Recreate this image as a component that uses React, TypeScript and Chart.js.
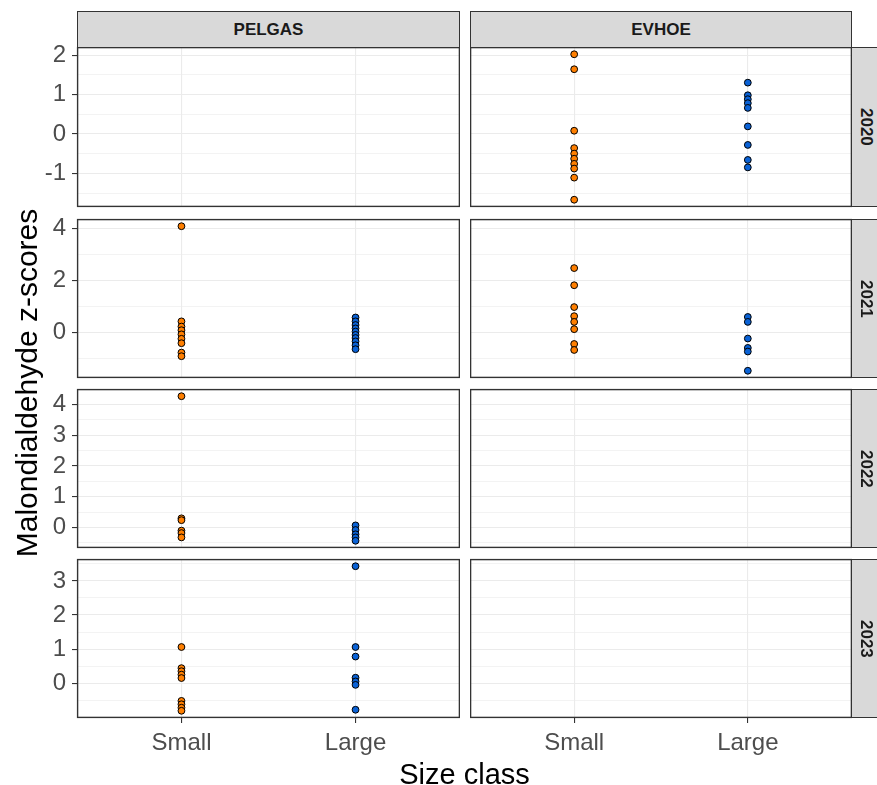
import React, { useEffect, useRef } from 'react';
import { Chart, registerables } from 'chart.js';

Chart.register(...registerables);

// ---------- data ----------
const sizeClasses = ['Small', 'Large'];
const surveys = ['PELGAS', 'EVHOE'];
const years = ['2020', '2021', '2022', '2023'];

// y-axis tick labels (major breaks) per year row
const yBreaks2020 = [-1, 0, 1, 2];
const yBreaks2021 = [0, 2, 4];
const yBreaks2022 = [0, 1, 2, 3, 4];
const yBreaks2023 = [0, 1, 2, 3];

const pelgas2020Small: number[] = [];
const pelgas2020Large: number[] = [];
const pelgas2021Small = [4.08, 0.42, 0.22, 0.08, -0.08, -0.25, -0.42, -0.78, -0.92];
const pelgas2021Large = [0.57, 0.42, 0.28, 0.15, 0.03, -0.1, -0.22, -0.35, -0.5, -0.65];
const pelgas2022Small = [4.27, 0.3, 0.24, -0.1, -0.18, -0.32];
const pelgas2022Large = [0.07, -0.08, -0.22, -0.32, -0.43];
const pelgas2023Small = [1.06, 0.44, 0.35, 0.25, 0.15, -0.52, -0.62, -0.72, -0.81];
const pelgas2023Large = [3.43, 1.06, 0.78, 0.16, 0.05, -0.05, -0.78];

const evhoe2020Small = [2.02, 1.64, 0.08, -0.36, -0.5, -0.63, -0.76, -0.88, -1.11, -1.67];
const evhoe2020Large = [1.3, 0.98, 0.88, 0.78, 0.66, 0.19, -0.28, -0.66, -0.85];
const evhoe2021Small = [2.47, 1.81, 0.97, 0.62, 0.4, 0.12, -0.45, -0.68];
const evhoe2021Large = [0.59, 0.4, -0.24, -0.6, -0.74, -1.48];
const evhoe2022Small: number[] = [];
const evhoe2022Large: number[] = [];
const evhoe2023Small: number[] = [];
const evhoe2023Large: number[] = [];

const yBreaks = [yBreaks2020, yBreaks2021, yBreaks2022, yBreaks2023];
const panelData: [number[], number[]][][] = [
  [
    [pelgas2020Small, pelgas2020Large],
    [pelgas2021Small, pelgas2021Large],
    [pelgas2022Small, pelgas2022Large],
    [pelgas2023Small, pelgas2023Large],
  ],
  [
    [evhoe2020Small, evhoe2020Large],
    [evhoe2021Small, evhoe2021Large],
    [evhoe2022Small, evhoe2022Large],
    [evhoe2023Small, evhoe2023Large],
  ],
];

// ---------- styling / layout ----------
const ORANGE = '#FF7F00';
const BLUE = '#0A62D6';
const FONT = "'Liberation Sans', Arial, sans-serif";
const TICK_COLOR = '#4D4D4D';
const COLS = [
  { left: 77, width: 383 },
  { left: 470, width: 382 },
];
const ROWS = [
  { top: 47, height: 160 },
  { top: 219, height: 159 },
  { top: 389, height: 159 },
  { top: 559, height: 159 },
];
const YAXIS_W = 50;
const XAXIS_H = 45;
const PADV = 14;

function rowLimits(row: number): [number, number] {
  const vals: number[] = [];
  for (let c = 0; c < 2; c++) {
    vals.push(...panelData[c][row][0], ...panelData[c][row][1]);
  }
  const mn = Math.min(...vals);
  const mx = Math.max(...vals);
  const pad = (mx - mn) * 0.05;
  return [mn - pad, mx + pad];
}

function rowTicks(row: number, ymin: number, ymax: number) {
  const major = yBreaks[row];
  const step = major[1] - major[0];
  const ext = [major[0] - step, ...major, major[major.length - 1] + step];
  const out: { value: number; major: boolean }[] = [];
  for (let i = 0; i < ext.length; i++) {
    if (i > 0) {
      const m = (ext[i - 1] + ext[i]) / 2;
      if (m >= ymin && m <= ymax) out.push({ value: m, major: false });
    }
    const v = ext[i];
    if (major.includes(v) && v >= ymin && v <= ymax) out.push({ value: v, major: true });
  }
  return out;
}

const borderPlugin = {
  id: 'panelBorder',
  afterDraw(chart: any) {
    const { ctx, chartArea } = chart;
    ctx.save();
    ctx.strokeStyle = '#333333';
    ctx.lineWidth = 1.4;
    ctx.strokeRect(
      chartArea.left + 0.6,
      chartArea.top + 0.6,
      chartArea.right - chartArea.left - 1.2,
      chartArea.bottom - chartArea.top - 1.2
    );
    ctx.restore();
  },
};

function Panel({ col, row }: { col: number; row: number }) {
  const ref = useRef<HTMLCanvasElement>(null);
  const isLeft = col === 0;
  const isBottom = row === ROWS.length - 1;
  const w = COLS[col].width + (isLeft ? YAXIS_W : 0);
  const h = ROWS[row].height + PADV + (isBottom ? XAXIS_H : PADV);
  const left = COLS[col].left - (isLeft ? YAXIS_W : 0);
  const top = ROWS[row].top - PADV;

  useEffect(() => {
    const [small, large] = panelData[col][row];
    const [ymin, ymax] = rowLimits(row);
    const ticks = rowTicks(row, ymin, ymax);
    const majorSet = new Set(ticks.filter((t) => t.major).map((t) => t.value));
    const isMajor = (v: number) => majorSet.has(v);
    const chart = new Chart(ref.current!, {
      type: 'scatter',
      data: {
        datasets: [
          {
            data: small.map((v) => ({ x: 1, y: v })),
            backgroundColor: ORANGE,
            borderColor: '#000000',
            borderWidth: 1,
            pointRadius: 3.4,
          },
          {
            data: large.map((v) => ({ x: 2, y: v })),
            backgroundColor: BLUE,
            borderColor: '#000000',
            borderWidth: 1,
            pointRadius: 3.4,
          },
        ],
      },
      options: {
        animation: false,
        responsive: false,
        maintainAspectRatio: false,
        layout: {
          autoPadding: false,
          padding: { top: PADV, bottom: isBottom ? 0 : PADV, left: 0, right: 0 },
        },
        plugins: { legend: { display: false }, tooltip: { enabled: false } },
        scales: {
          x: {
            type: 'linear',
            min: 0.4,
            max: 2.6,
            afterBuildTicks: (s: any) => {
              s.ticks = sizeClasses.map((_, i) => ({ value: i + 1 }));
            },
            ticks: {
              display: isBottom,
              callback: (v: any) => sizeClasses[Math.round(v) - 1] ?? '',
              font: { family: FONT, size: 24 },
              color: TICK_COLOR,
              padding: 6,
              maxRotation: 0,
              autoSkip: false,
            },
            grid: {
              color: '#EBEBEB',
              lineWidth: 1.1,
              drawTicks: isBottom,
              tickLength: 5,
              tickColor: '#333333',
            },
            border: { display: false },
            afterFit: (s: any) => {
              s.height = isBottom ? XAXIS_H : 0;
              s.paddingLeft = 0;
              s.paddingRight = 0;
              s.paddingTop = 0;
              s.paddingBottom = 0;
            },
          },
          y: {
            type: 'linear',
            min: ymin,
            max: ymax,
            afterBuildTicks: (s: any) => {
              s.ticks = ticks.map((t) => ({ value: t.value }));
            },
            ticks: {
              display: isLeft,
              callback: (v: any) => (isMajor(v) ? String(v) : ''),
              font: { family: FONT, size: 24 },
              color: TICK_COLOR,
              padding: 6,
              autoSkip: false,
            },
            grid: {
              color: '#EBEBEB',
              lineWidth: (ctx: any) => (ctx.tick && isMajor(ctx.tick.value) ? 1.1 : 0.6),
              drawTicks: isLeft,
              tickLength: 5,
              tickColor: (ctx: any) =>
                ctx.tick && isMajor(ctx.tick.value) ? '#333333' : 'rgba(0,0,0,0)',
            },
            border: { display: false },
            afterFit: (s: any) => {
              s.width = isLeft ? YAXIS_W : 0;
              s.paddingLeft = 0;
              s.paddingRight = 0;
              s.paddingTop = 0;
              s.paddingBottom = 0;
            },
          },
        },
      } as any,
      plugins: [borderPlugin],
    });
    return () => chart.destroy();
  }, [col, row]);

  return (
    <canvas
      ref={ref}
      width={w}
      height={h}
      style={{ position: 'absolute', left, top, width: w, height: h }}
    />
  );
}

const stripBase: React.CSSProperties = {
  position: 'absolute',
  boxSizing: 'border-box',
  border: '1.4px solid #333333',
  background: '#D9D9D9',
  color: '#1A1A1A',
  fontFamily: FONT,
  fontWeight: 'bold',
  fontSize: 17,
  display: 'flex',
  alignItems: 'center',
  justifyContent: 'center',
};

export default function App() {
  const panels: React.ReactNode[] = [];
  for (let c = 0; c < COLS.length; c++) {
    for (let r = 0; r < ROWS.length; r++) {
      panels.push(<Panel key={`${c}-${r}`} col={c} row={r} />);
    }
  }
  const plotLeft = COLS[0].left;
  const plotRight = COLS[1].left + COLS[1].width;
  const plotTop = ROWS[0].top;
  const plotBottom = ROWS[3].top + ROWS[3].height;
  return (
    <div
      style={{
        position: 'absolute',
        left: 0,
        top: 0,
        width: 877,
        height: 785,
        background: '#FFFFFF',
        overflow: 'hidden',
      }}
    >
      {panels}
      {surveys.map((s, c) => (
        <div
          key={s}
          style={{
            ...stripBase,
            left: COLS[c].left,
            top: 11,
            width: COLS[c].width,
            height: ROWS[0].top - 11 + 1,
          }}
        >
          {s}
        </div>
      ))}
      {years.map((y, r) => (
        <div
          key={y}
          style={{
            ...stripBase,
            left: plotRight - 1,
            top: ROWS[r].top,
            width: 30,
            height: ROWS[r].height,
            writingMode: 'vertical-rl',
          }}
        >
          {y}
        </div>
      ))}
      <div
        style={{
          position: 'absolute',
          left: 0,
          width: plotLeft + plotRight,
          top: 759,
          height: 30,
          lineHeight: '30px',
          textAlign: 'center',
          fontFamily: FONT,
          fontSize: 29,
          color: '#000000',
          whiteSpace: 'nowrap',
        }}
      >
        Size class
      </div>
      <div
        style={{
          position: 'absolute',
          left: 27 - 250,
          top: (plotTop + plotBottom) / 2 - 16,
          width: 500,
          height: 32,
          lineHeight: '32px',
          textAlign: 'center',
          fontFamily: FONT,
          fontSize: 30,
          color: '#000000',
          whiteSpace: 'nowrap',
          transform: 'rotate(-90deg)',
          transformOrigin: '50% 50%',
        }}
      >
        Malondialdehyde z-scores
      </div>
    </div>
  );
}
